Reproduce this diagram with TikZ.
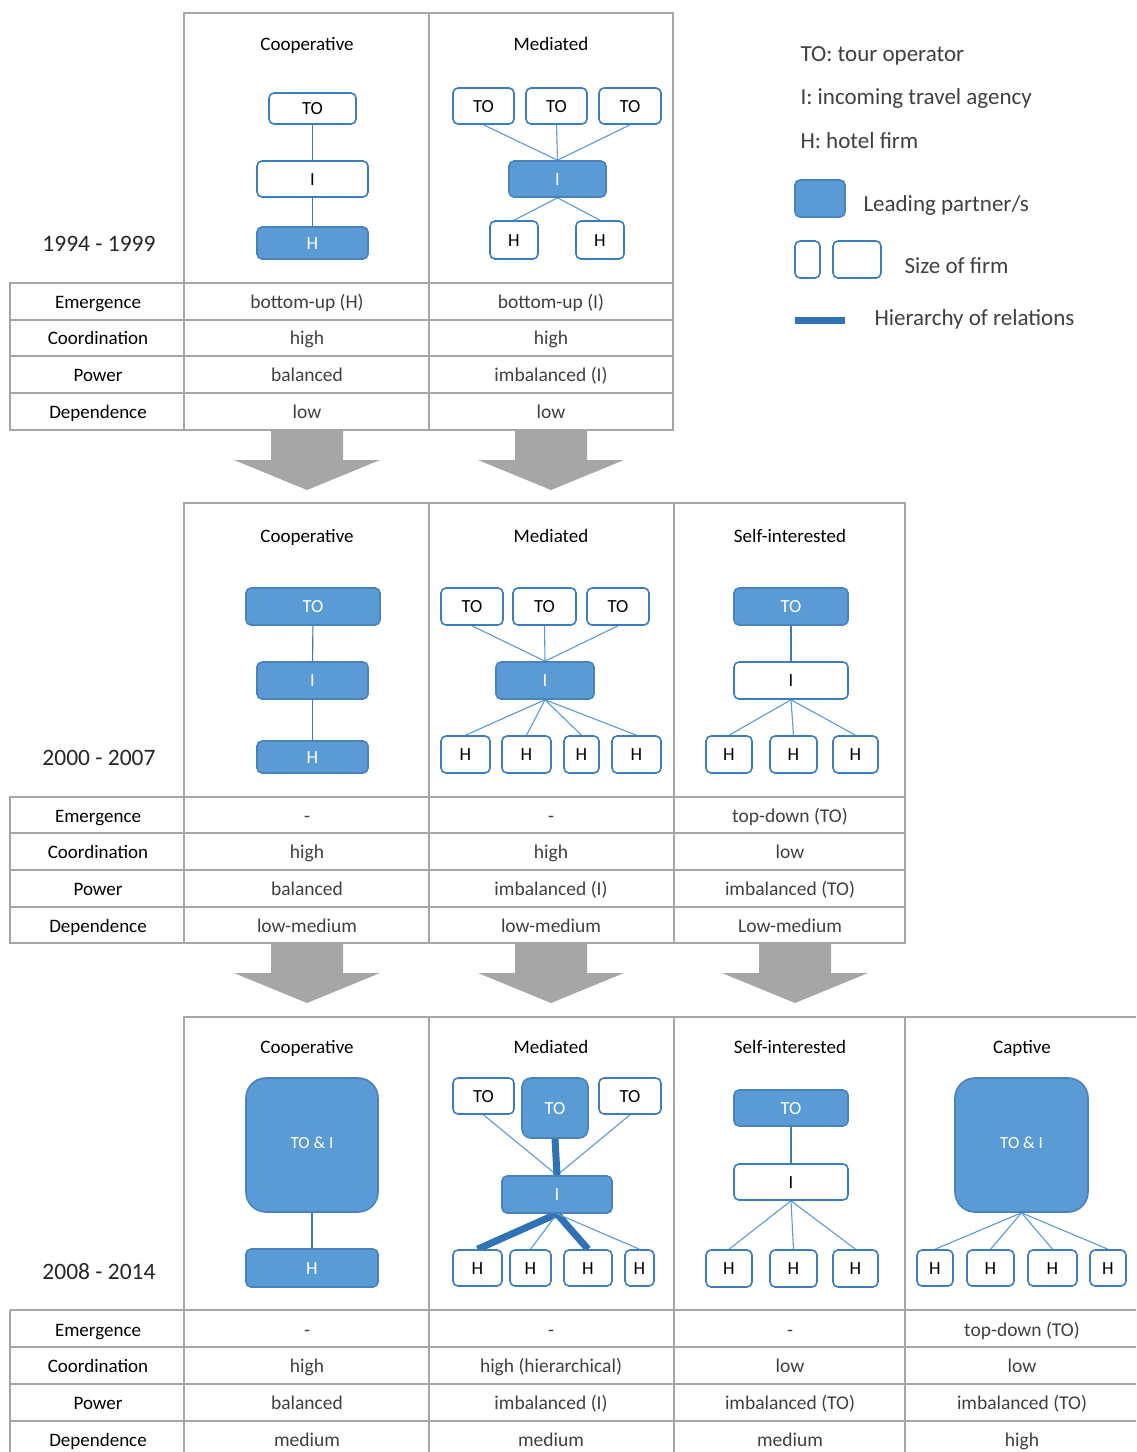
\documentclass[tikz,border=0pt]{standalone}
\usepackage{fontspec}
\setmainfont{Carlito}
\usetikzlibrary{backgrounds}
\pgfdeclarelayer{paper}
\pgfsetlayers{paper,background,main}

\definecolor{leadc}{HTML}{5B9BD5}
\definecolor{edgec}{HTML}{3C7DC0}
\definecolor{leadedge}{HTML}{4A82BA}
\definecolor{relc}{HTML}{5B9BD5}
\definecolor{vrelc}{HTML}{3F7AB5}
\definecolor{hierc}{HTML}{2F72B5}
\definecolor{rulec}{HTML}{A6A6A6}
\definecolor{arrc}{HTML}{A6A6A6}
\definecolor{inkc}{HTML}{404040}

\tikzset{
  firm/.style={draw=edgec, line width=1.6pt, rounded corners=5pt, fill=white,
    inner sep=0pt, font=\fontsize{18.5}{20}\selectfont, text=black,
    text height=1.2em, text depth=0pt},
  leadfirm/.style={firm, fill=leadc, draw=leadedge, text=white},
  bigfirm/.style={leadfirm, rounded corners=20pt, text height=0.66em,
    font=\fontsize{17}{19}\selectfont},
  rel/.style={draw=relc, line width=1.1pt},
  vrel/.style={draw=vrelc, line width=1.1pt},
  hier/.style={draw=hierc, line width=7pt},
  gridline/.style={draw=rulec, line width=2pt},
  colhead/.style={font=\fontsize{19}{21}\selectfont, text=black, anchor=base, yshift=-6.5pt},
  rowlab/.style={font=\fontsize{19}{21}\selectfont, text=black, anchor=base, yshift=-6.5pt},
  cellval/.style={font=\fontsize{19.5}{21}\selectfont, text=inkc, anchor=base, yshift=-6.5pt},
  period/.style={font=\fontsize{23.5}{25}\selectfont, text=black!85},
  legtext/.style={font=\fontsize{23}{25}\selectfont, text=inkc, anchor=west, yshift=-2pt},
}

% \firm{name}{x1}{y1}{x2}{y2}{style}{text}
\newcommand\firm[7]{\node[#6, minimum width={#4-#2}, minimum height={#5-#3}] (#1) at ({(#2+#4)/2},{(#3+#5)/2}) {#7};}
% \garrow{centre x}{top y}
\newcommand\garrow[2]{\fill[arrc] ({#1-36},#2) -- ({#1+36},#2) -- ({#1+36},{#2+30}) -- ({#1+73},{#2+30}) -- (#1,{#2+60}) -- ({#1-73},{#2+30}) -- ({#1-36},{#2+30}) -- cycle;}
% \tlab{y}{row label}
\newcommand\tlab[2]{\node[rowlab] at (98,#1) {#2};}

\begin{document}
\begin{tikzpicture}[x=1pt, y=-1pt]
\begin{pgfonlayer}{paper}
  \fill[white] (0,0) rectangle (1136,1452);
\end{pgfonlayer}
\useasboundingbox (0,0) rectangle (1136,1452);

% ---------------- grids ----------------
% period 1
\draw[gridline] (184,13) rectangle (673,430);
\draw[gridline] (10,283) rectangle (184,430);
\draw[gridline] (429,13) -- (429,430);
\foreach \y in {283,320,356,393} \draw[gridline] (10,\y) -- (673,\y);
% period 2
\draw[gridline] (184,503) rectangle (905,943);
\draw[gridline] (10,797) rectangle (184,943);
\foreach \x in {429,674} \draw[gridline] (\x,503) -- (\x,943);
\foreach \y in {797,833,870,907} \draw[gridline] (10,\y) -- (905,\y);
% period 3
\draw[gridline] (1136,1017) -- (184,1017) -- (184,1452);
\draw[gridline] (10,1310) -- (10,1452);
\foreach \x in {429,674,905} \draw[gridline] (\x,1017) -- (\x,1452);
\foreach \y in {1310,1347,1384,1421} \draw[gridline] (10,\y) -- (1136,\y);

% ---------------- transition arrows ----------------
\garrow{307}{430}
\garrow{551}{430}
\garrow{307}{943}
\garrow{551}{943}
\garrow{795}{943}

% ---------------- period labels ----------------
\node[period] at (99,244) {1994 - 1999};
\node[period] at (99,758) {2000 - 2007};
\node[period] at (99,1272) {2008 - 2014};

% ---------------- column headers ----------------
\node[colhead] at (307,44) {Cooperative};
\node[colhead] at (551,44) {Mediated};
\node[colhead] at (307,536) {Cooperative};
\node[colhead] at (551,536) {Mediated};
\node[colhead] at (790,536) {Self-interested};
\node[colhead] at (307,1047) {Cooperative};
\node[colhead] at (551,1047) {Mediated};
\node[colhead] at (790,1047) {Self-interested};
\node[colhead] at (1022,1047) {Captive};

% ---------------- table texts ----------------
\tlab{302}{Emergence}\tlab{338}{Coordination}\tlab{375}{Power}\tlab{412}{Dependence}
\node[cellval] at (307,302) {bottom-up (H)};
\node[cellval] at (551,302) {bottom-up (I)};
\node[cellval] at (307,338) {high};
\node[cellval] at (551,338) {high};
\node[cellval] at (307,375) {balanced};
\node[cellval] at (551,375) {imbalanced (I)};
\node[cellval] at (307,412) {low};
\node[cellval] at (551,412) {low};

\tlab{816}{Emergence}\tlab{852}{Coordination}\tlab{889}{Power}\tlab{926}{Dependence}
\node[cellval] at (307,816) {-};
\node[cellval] at (551,816) {-};
\node[cellval] at (790,816) {top-down (TO)};
\node[cellval] at (307,852) {high};
\node[cellval] at (551,852) {high};
\node[cellval] at (790,852) {low};
\node[cellval] at (307,889) {balanced};
\node[cellval] at (551,889) {imbalanced (I)};
\node[cellval] at (790,889) {imbalanced (TO)};
\node[cellval] at (307,926) {low-medium};
\node[cellval] at (551,926) {low-medium};
\node[cellval] at (790,926) {Low-medium};

\tlab{1330}{Emergence}\tlab{1366}{Coordination}\tlab{1403}{Power}\tlab{1440}{Dependence}
\node[cellval] at (307,1330) {-};
\node[cellval] at (551,1330) {-};
\node[cellval] at (790,1330) {-};
\node[cellval] at (1022,1330) {top-down (TO)};
\node[cellval] at (307,1366) {high};
\node[cellval] at (551,1366) {high (hierarchical)};
\node[cellval] at (790,1366) {low};
\node[cellval] at (1022,1366) {low};
\node[cellval] at (307,1403) {balanced};
\node[cellval] at (551,1403) {imbalanced (I)};
\node[cellval] at (790,1403) {imbalanced (TO)};
\node[cellval] at (1022,1403) {imbalanced (TO)};
\node[cellval] at (307,1440) {medium};
\node[cellval] at (551,1440) {medium};
\node[cellval] at (790,1440) {medium};
\node[cellval] at (1022,1440) {high};

% ---------------- period 1 networks ----------------
\firm{a1to}{269}{93}{356}{124}{firm}{TO}
\firm{a1i}{257}{161}{368}{197}{firm}{I}
\firm{a1h}{257}{227}{368}{259}{leadfirm}{H}

\firm{b1t1}{453}{88}{514}{124}{firm}{TO}
\firm{b1t2}{526}{88}{587}{124}{firm}{TO}
\firm{b1t3}{599}{88}{661}{124}{firm}{TO}
\firm{b1i}{509}{161}{606}{197}{leadfirm}{I}
\firm{b1h1}{490}{221}{538}{259}{firm}{H}
\firm{b1h2}{576}{221}{624}{259}{firm}{H}

% ---------------- period 2 networks ----------------
\firm{a2to}{246}{588}{380}{625}{leadfirm}{TO}
\firm{a2i}{257}{662}{368}{699}{leadfirm}{I}
\firm{a2h}{257}{741}{368}{773}{leadfirm}{H}

\firm{b2t1}{441}{588}{503}{625}{firm}{TO}
\firm{b2t2}{513}{588}{576}{625}{firm}{TO}
\firm{b2t3}{587}{588}{649}{625}{firm}{TO}
\firm{b2i}{496}{662}{594}{699}{leadfirm}{I}
\firm{b2h1}{441}{736}{490}{773}{firm}{H}
\firm{b2h2}{502}{736}{551}{773}{firm}{H}
\firm{b2h3}{564}{736}{599}{773}{firm}{H}
\firm{b2h4}{612}{736}{661}{773}{firm}{H}

\firm{c2to}{734}{588}{848}{625}{leadfirm}{TO}
\firm{c2i}{734}{662}{848}{699}{firm}{I}
\firm{c2h1}{706}{736}{752}{773}{firm}{H}
\firm{c2h2}{770}{736}{817}{773}{firm}{H}
\firm{c2h3}{833}{736}{878}{773}{firm}{H}

% ---------------- period 3 networks ----------------
\firm{a3ti}{246}{1078}{378}{1212}{bigfirm}{TO \& I}
\firm{a3h}{246}{1249}{378}{1287}{leadfirm}{H}

\firm{b3t1}{453}{1078}{514}{1114}{firm}{TO}
\firm{b3t2}{522}{1078}{588}{1138}{leadfirm, rounded corners=9pt}{TO}
\firm{b3t3}{599}{1078}{661}{1114}{firm}{TO}
\firm{b3i}{502}{1176}{612}{1213}{leadfirm}{I}
\firm{b3h1}{453}{1250}{502}{1286}{firm}{H}
\firm{b3h2}{510}{1250}{551}{1286}{firm}{H}
\firm{b3h3}{564}{1250}{612}{1286}{firm}{H}
\firm{b3h4}{625}{1250}{654}{1286}{firm}{H}

\firm{c3to}{734}{1090}{848}{1126}{leadfirm}{TO}
\firm{c3i}{734}{1164}{848}{1200}{firm}{I}
\firm{c3h1}{706}{1250}{752}{1287}{firm}{H}
\firm{c3h2}{770}{1250}{817}{1287}{firm}{H}
\firm{c3h3}{833}{1250}{878}{1287}{firm}{H}

\firm{d3ti}{955}{1078}{1088}{1212}{bigfirm}{TO \& I}
\firm{d3h1}{917}{1250}{953}{1286}{firm}{H}
\firm{d3h2}{967}{1250}{1014}{1286}{firm}{H}
\firm{d3h3}{1028}{1250}{1077}{1286}{firm}{H}
\firm{d3h4}{1090}{1250}{1126}{1286}{firm}{H}

% ---------------- legend ----------------
\node[legtext] at (797,54) {TO: tour operator};
\node[legtext] at (797,96) {I: incoming travel agency};
\node[legtext] at (797,139) {H: hotel firm};
\firm{legLead}{795}{180}{845}{217}{leadfirm}{}
\firm{legSmall}{795}{241}{820}{278}{firm}{}
\firm{legLarge}{833}{241}{881}{278}{firm}{}
\coordinate (legHa) at (795,320);
\coordinate (legHb) at (845,320);
\node[legtext] at (860,203) {Leading partner/s};
\node[legtext] at (901,264) {Size of firm};
\node[legtext] at (871,317) {Hierarchy of relations};

% ---------------- relations (behind the firms) ----------------
\begin{pgfonlayer}{background}
  \draw[vrel] (a1to) -- (a1i);
  \draw[vrel] (a1i) -- (a1h);
  \foreach \t in {b1t1,b1t2,b1t3} \draw[rel] (\t.south) -- (b1i.north);
  \foreach \h in {b1h1,b1h2} \draw[rel] (b1i.south) -- (\h.north);

  \draw[vrel] (a2to) -- (a2i);
  \draw[vrel] (a2i) -- (a2h);
  \foreach \t in {b2t1,b2t2,b2t3} \draw[rel] (\t.south) -- (b2i.north);
  \foreach \h in {b2h1,b2h2,b2h3,b2h4} \draw[rel] (b2i.south) -- (\h.north);
  \draw[vrel] (c2to) -- (c2i);
  \foreach \h in {c2h1,c2h2,c2h3} \draw[rel] (c2i.south) -- (\h.north);

  \draw[vrel] (a3ti) -- (a3h);
  \draw[rel] (b3t1.south) -- (b3i.north);
  \draw[rel] (b3t3.south) -- (b3i.north);
  \draw[hier] (b3t2.south) -- (b3i.north);
  \draw[hier] (b3i.south) -- (b3h1.north);
  \draw[rel] (b3i.south) -- (b3h2.north);
  \draw[hier] (b3i.south) -- (b3h3.north);
  \draw[rel] (b3i.south) -- (b3h4.north);
  \draw[vrel] (c3to) -- (c3i);
  \foreach \h in {c3h1,c3h2,c3h3} \draw[rel] (c3i.south) -- (\h.north);
  \foreach \h in {d3h1,d3h2,d3h3,d3h4} \draw[rel] (d3ti.south) -- (\h.north);
\end{pgfonlayer}
\draw[hier] (legHa) -- (legHb);

\end{tikzpicture}
\end{document}
